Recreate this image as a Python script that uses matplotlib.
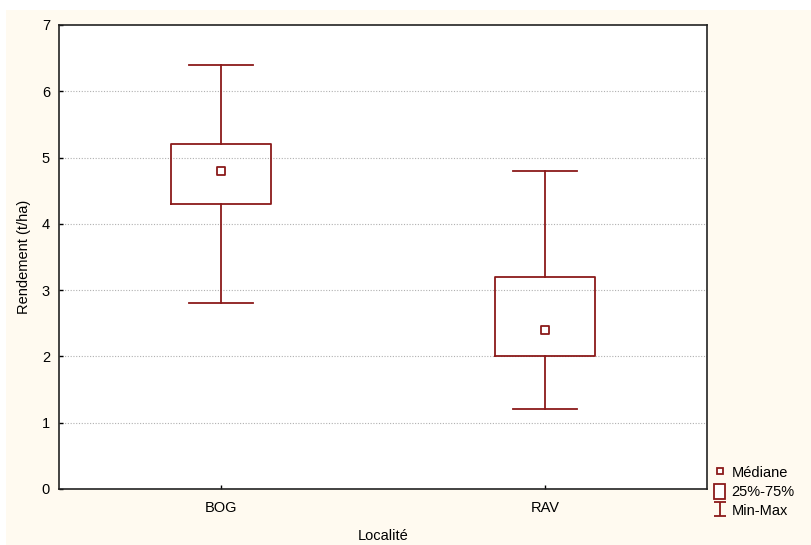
import numpy as np
import matplotlib
matplotlib.use("Agg")
import matplotlib.pyplot as plt
from matplotlib.lines import Line2D
from matplotlib.patches import Rectangle

plt.rcParams['font.family'] = ['Liberation Sans', 'DejaVu Sans']

# data
localites = ['BOG', 'RAV']
mins = [2.8, 1.2]
q1s = [4.3, 2.0]
medianes = [4.8, 2.4]
q3s = [5.2, 3.2]
maxs = [6.4, 4.8]

red = '#8B1A1A'
cream = '#FFFAF0'

fig = plt.figure(figsize=(8.12, 5.45), dpi=100, facecolor='white')
# cream panel behind the chart, leaving a thin white strip top/left
fig.patches.append(Rectangle((6 / 812, 0), 1, 1 - 10 / 545, transform=fig.transFigure,
                             facecolor=cream, edgecolor='none', zorder=-10))
ax = fig.add_axes([59 / 812, 1 - 489 / 545, 648 / 812, 464 / 545])
ax.set_facecolor('white')

stats = []
for i, name in enumerate(localites):
    stats.append(dict(label=name, med=medianes[i], q1=q1s[i], q3=q3s[i],
                      whislo=mins[i], whishi=maxs[i], fliers=[]))

pos = np.arange(len(localites))
ax.bxp(stats, positions=pos, widths=0.31, showfliers=False,
       boxprops=dict(color=red, linewidth=1.3),
       whiskerprops=dict(color=red, linewidth=1.3),
       capprops=dict(color=red, linewidth=1.3),
       medianprops=dict(linewidth=0), capwidths=0.2, zorder=3)
ax.scatter(pos, medianes, marker='s', s=28, facecolor='white', edgecolor=red,
           linewidths=1.3, zorder=4)

ax.set_xlim(-0.5, 1.5)
ax.set_ylim(0, 7)
ax.set_yticks(range(0, 8))
ax.set_xticks(pos)
ax.set_xticklabels(localites)
for y in range(1, 7):
    ax.axhline(y, color='#b0b0b0', linestyle=(0, (1, 1.5)), linewidth=0.8, zorder=1)
ax.tick_params(direction='in', length=3, width=1, labelsize=10.5, colors='black')
ax.tick_params(axis='x', pad=9)
ax.tick_params(axis='y', pad=6.5)
for s in ax.spines.values():
    s.set_linewidth(1.2)
    s.set_color('#222222')

ax.set_xlabel('Localité', fontsize=10.5, labelpad=10)
ax.set_ylabel('Rendement (t/ha)', fontsize=10.5, labelpad=8)

# legend
h_med = Line2D([], [], marker='s', linestyle='none', markersize=5,
               markerfacecolor='white', markeredgecolor=red, markeredgewidth=1.3)
h_box = Rectangle((0, 0), 1, 1, facecolor='white', edgecolor=red, linewidth=1.3)
h_mm = ax.errorbar([np.nan], [np.nan], yerr=[1], fmt='none', ecolor=red,
                   capsize=4, elinewidth=1.3, capthick=1.3)
leg = fig.legend([h_med, h_box, h_mm], ['Médiane', '25%-75%', 'Min-Max'],
                 loc='lower left', bbox_to_anchor=(708 / 812, 1 - 524 / 545),
                 frameon=False, fontsize=10.5, handlelength=0.8, handleheight=1.2,
                 handletextpad=0.4, labelspacing=0.25, borderaxespad=0)

fig.savefig('out.png', dpi=100, facecolor=fig.get_facecolor())
